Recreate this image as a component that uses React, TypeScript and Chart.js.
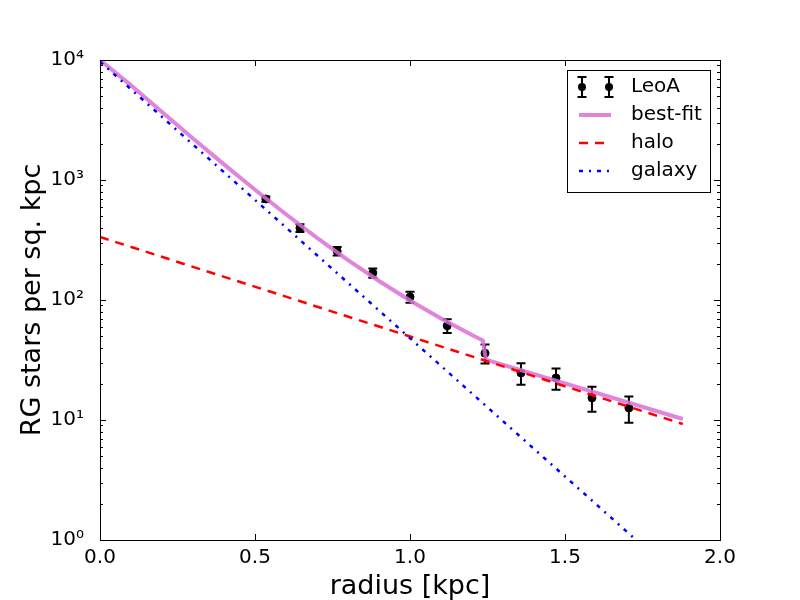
import React, { useRef, useEffect } from 'react';
import { Chart, registerables } from 'chart.js';

Chart.register(...registerables);

// LeoA radial profile
const LEO_R = [0.535, 0.645, 0.765, 0.88, 1.0, 1.12, 1.242, 1.358, 1.471, 1.587, 1.706];
const LEO_N = [695, 398, 256, 168, 106, 61, 36, 24.7, 22.4, 15.3, 12.6];
const LEO_ERR = [35, 30, 21, 15, 11, 8, 6.5, 5, 4.5, 3.6, 3.1];

const FIT_R = [0, 0.1, 0.2, 0.3, 0.4, 0.5, 0.6, 0.7, 0.8, 0.9, 1.0, 1.1, 1.2, 1.235, 1.245, 1.5, 1.88];
const FIT_N = [10000, 6150, 3680, 2220, 1350, 830, 518, 330, 215, 144, 99, 70, 51, 46, 31.8, 20.2, 10.2];

const HALO_R = [0, 1.88];
const HALO_N = [335, 9.25];

const GALAXY_R = [0, 1.88];
const GALAXY_N = [9700, 0.45];

const X_TICKS = [0, 0.5, 1.0, 1.5, 2.0];
const Y_MAJOR = [1, 10, 100, 1000, 10000];
const Y_LABELS = ['10⁰', '10¹', '10²', '10³', '10⁴'];

const FONT = 'DejaVu Sans';
const FIT_COLOR = 'rgba(218, 112, 214, 0.85)';
const HALO_DASH = [9, 7];
const GALAXY_DASH = [4, 6, 2, 6];

const yMinor: number[] = [];
Y_MAJOR.slice(0, -1).forEach((m) => {
  for (let k = 2; k <= 9; k++) yMinor.push(m * k);
});

const pts = (xs: number[], ys: number[]) => xs.map((x, i) => ({ x, y: ys[i] }));

const errorBars = {
  id: 'errorBars',
  beforeDatasetDraw(chart: any, args: any) {
    if (args.index !== 0) return;
    const { ctx, chartArea: a, scales } = chart;
    ctx.save();
    ctx.beginPath();
    ctx.rect(a.left, a.top, a.width, a.height);
    ctx.clip();
    ctx.strokeStyle = '#000';
    ctx.lineWidth = 2;
    LEO_R.forEach((r, i) => {
      const px = scales.x.getPixelForValue(r);
      const top = scales.y.getPixelForValue(LEO_N[i] + LEO_ERR[i]);
      const bot = scales.y.getPixelForValue(LEO_N[i] - LEO_ERR[i]);
      ctx.beginPath();
      ctx.moveTo(px, top);
      ctx.lineTo(px, bot);
      ctx.moveTo(px - 4.5, top);
      ctx.lineTo(px + 4.5, top);
      ctx.moveTo(px - 4.5, bot);
      ctx.lineTo(px + 4.5, bot);
      ctx.stroke();
    });
    ctx.restore();
  }
};

const frame = {
  id: 'frame',
  afterDraw(chart: any) {
    const { ctx, chartArea: a, scales } = chart;
    ctx.save();
    ctx.strokeStyle = '#000';
    ctx.lineWidth = 1;
    ctx.beginPath();
    X_TICKS.forEach((v) => {
      const px = Math.round(scales.x.getPixelForValue(v)) + 0.5;
      ctx.moveTo(px, a.bottom);
      ctx.lineTo(px, a.bottom - 6);
      ctx.moveTo(px, a.top);
      ctx.lineTo(px, a.top + 6);
    });
    const tick = (v: number, len: number) => {
      const py = Math.round(scales.y.getPixelForValue(v)) + 0.5;
      ctx.moveTo(a.left, py);
      ctx.lineTo(a.left + len, py);
      ctx.moveTo(a.right, py);
      ctx.lineTo(a.right - len, py);
    };
    Y_MAJOR.forEach((v) => tick(v, 6));
    yMinor.forEach((v) => tick(v, 3));
    ctx.stroke();
    ctx.strokeRect(Math.round(a.left) + 0.5, Math.round(a.top) + 0.5, Math.round(a.width), Math.round(a.height));
    ctx.restore();
  }
};

const legendBox = {
  id: 'legendBox',
  afterDraw(chart: any) {
    const { ctx } = chart;
    ctx.save();
    ctx.fillStyle = '#fff';
    ctx.fillRect(567.5, 70.5, 143, 122);
    ctx.strokeStyle = '#000';
    ctx.lineWidth = 1;
    ctx.strokeRect(567.5, 70.5, 143, 122);

    const rows = [87, 115, 143, 171];
    const x0 = 579;
    const x1 = 611;

    // LeoA errorbar handle
    [582, 609].forEach((px) => {
      ctx.beginPath();
      ctx.lineWidth = 2;
      ctx.moveTo(px, rows[0] - 10);
      ctx.lineTo(px, rows[0] + 10);
      ctx.moveTo(px - 4.5, rows[0] - 10);
      ctx.lineTo(px + 4.5, rows[0] - 10);
      ctx.moveTo(px - 4.5, rows[0] + 10);
      ctx.lineTo(px + 4.5, rows[0] + 10);
      ctx.stroke();
      ctx.beginPath();
      ctx.fillStyle = '#000';
      ctx.arc(px, rows[0], 4, 0, Math.PI * 2);
      ctx.fill();
    });

    const handle = (y: number, color: string, width: number, dash: number[]) => {
      ctx.beginPath();
      ctx.strokeStyle = color;
      ctx.lineWidth = width;
      ctx.setLineDash(dash);
      ctx.moveTo(x0, y);
      ctx.lineTo(x1, y);
      ctx.stroke();
      ctx.setLineDash([]);
    };
    handle(rows[1], FIT_COLOR, 4, []);
    handle(rows[2], '#ff0000', 2.5, HALO_DASH);
    handle(rows[3], '#0000ff', 2.5, GALAXY_DASH);

    ctx.fillStyle = '#000';
    ctx.font = `20px "${FONT}"`;
    ctx.textBaseline = 'middle';
    ctx.textAlign = 'left';
    ['LeoA', 'best-fit', 'halo', 'galaxy'].forEach((t, i) => ctx.fillText(t, 631, rows[i]));
    ctx.restore();
  }
};

export default function App() {
  const canvasRef = useRef<HTMLCanvasElement>(null);

  useEffect(() => {
    document.body.style.margin = '0';
    if (!canvasRef.current) return;
    const chart = new Chart(canvasRef.current, {
      type: 'scatter',
      data: {
        datasets: [
          {
            label: 'LeoA',
            data: pts(LEO_R, LEO_N),
            pointRadius: 4,
            pointBackgroundColor: '#000',
            pointBorderColor: '#000',
            showLine: false,
            order: 3
          },
          {
            label: 'best-fit',
            data: pts(FIT_R, FIT_N),
            showLine: true,
            borderColor: FIT_COLOR,
            borderWidth: 4,
            pointRadius: 0,
            order: 2
          },
          {
            label: 'halo',
            data: pts(HALO_R, HALO_N),
            showLine: true,
            borderColor: '#ff0000',
            borderWidth: 2.5,
            borderDash: HALO_DASH,
            pointRadius: 0,
            order: 1
          },
          {
            label: 'galaxy',
            data: pts(GALAXY_R, GALAXY_N),
            showLine: true,
            borderColor: '#0000ff',
            borderWidth: 2.5,
            borderDash: GALAXY_DASH,
            pointRadius: 0,
            order: 0
          }
        ]
      },
      options: {
        responsive: false,
        animation: false,
        events: [],
        layout: { padding: { top: 60, right: 80, left: 0, bottom: 0 } },
        plugins: { legend: { display: false }, tooltip: { enabled: false } },
        scales: {
          x: {
            type: 'linear',
            min: 0,
            max: 2,
            grid: { display: false },
            border: { display: false },
            afterFit: (s: any) => {
              s.height = 60;
            },
            afterBuildTicks: (s: any) => {
              s.ticks = X_TICKS.map((value) => ({ value }));
            },
            ticks: {
              autoSkip: false,
              maxRotation: 0,
              padding: -2,
              color: '#000',
              font: { family: FONT, size: 20 },
              callback: (v: any) => Number(v).toFixed(1)
            },
            title: {
              display: true,
              text: 'radius [kpc]',
              color: '#000',
              font: { family: FONT, size: 27, lineHeight: 1 },
              padding: { top: 0, bottom: 0 }
            }
          },
          y: {
            type: 'logarithmic',
            min: 1,
            max: 10000,
            grid: { display: false },
            border: { display: false },
            afterFit: (s: any) => {
              s.width = 100;
            },
            afterBuildTicks: (s: any) => {
              s.ticks = Y_MAJOR.map((value) => ({ value, major: true }));
            },
            ticks: {
              autoSkip: false,
              padding: 8,
              color: '#000',
              font: { family: FONT, size: 20 },
              callback: (v: any) => {
                const i = Y_MAJOR.indexOf(Number(v));
                return i >= 0 ? Y_LABELS[i] : '';
              }
            },
            title: {
              display: true,
              text: 'RG stars per sq. kpc',
              color: '#000',
              font: { family: FONT, size: 27, lineHeight: 1.2 },
              padding: { top: 17, bottom: 0 }
            }
          }
        }
      },
      plugins: [errorBars, frame, legendBox]
    });
    return () => {
      chart.destroy();
    };
  }, []);

  return <canvas ref={canvasRef} width={800} height={600} />;
}
